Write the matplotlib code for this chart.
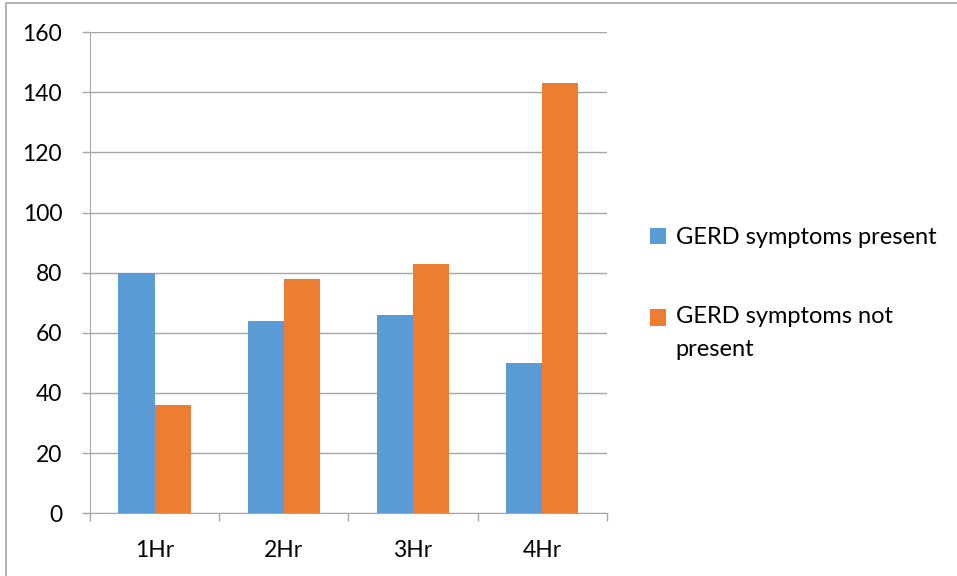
import matplotlib
matplotlib.use("Agg")
from matplotlib import pyplot as plt
from matplotlib.patches import Rectangle
import numpy as np

categories = ["1Hr", "2Hr", "3Hr", "4Hr"]
present = [80, 64, 66, 50]
not_present = [36, 78, 83, 143]
labels = ["GERD symptoms present", "GERD symptoms not\npresent"]
colors = ["#5B9BD5", "#ED7D31"]

plt.rcParams["font.family"] = ["Lato", "DejaVu Sans"]

fig = plt.figure(figsize=(9.57, 5.76), dpi=100)
ax = fig.add_axes([0.094, 0.109, 0.540, 0.835])

x = np.arange(len(categories))
w = 0.28
ax.bar(x - w / 2, present, w, color=colors[0], label=labels[0], zorder=3)
ax.bar(x + w / 2, not_present, w, color=colors[1], label=labels[1], zorder=3)

ax.set_xlim(-0.5, len(categories) - 0.5)
ax.set_ylim(0, 160)
ax.set_yticks(range(0, 161, 20))
ax.yaxis.grid(True, color="#A6A6A6", linewidth=1)
ax.set_axisbelow(True)

# category boundaries as ticks, labels in the middle
ax.set_xticks(np.arange(-0.5, len(categories)), minor=False)
ax.set_xticklabels([])
ax.set_xticks(x, minor=True)
ax.set_xticklabels(categories, minor=True)
ax.tick_params(axis="x", which="major", length=6, color="#A6A6A6", width=1)
ax.tick_params(axis="x", which="minor", length=0, pad=19, labelsize=16.5)
ax.tick_params(axis="y", length=6, color="#A6A6A6", width=1, pad=14, labelsize=16.5)

for s in ["top", "right"]:
    ax.spines[s].set_visible(False)
for s in ["left", "bottom"]:
    ax.spines[s].set_color("#A6A6A6")

leg = ax.legend(loc="center left", bbox_to_anchor=(0.679, 0.49), bbox_transform=fig.transFigure,
                frameon=False, fontsize=17, handlelength=0.7, handleheight=0.7,
                handletextpad=0.4, labelspacing=2.45, borderpad=0, borderaxespad=0)
for t in leg.get_texts():
    t.set_linespacing(1.7)
# put the orange square next to the first line of its label
h = leg.legend_handles[1]
h.set_y(h.get_y() + 11.5)

fig.patches.append(Rectangle((0.006, -0.01), 1.0, 1.005, transform=fig.transFigure,
                             fill=False, edgecolor="#A6A6A6", linewidth=1.2))

fig.savefig("out.png", dpi=100)
